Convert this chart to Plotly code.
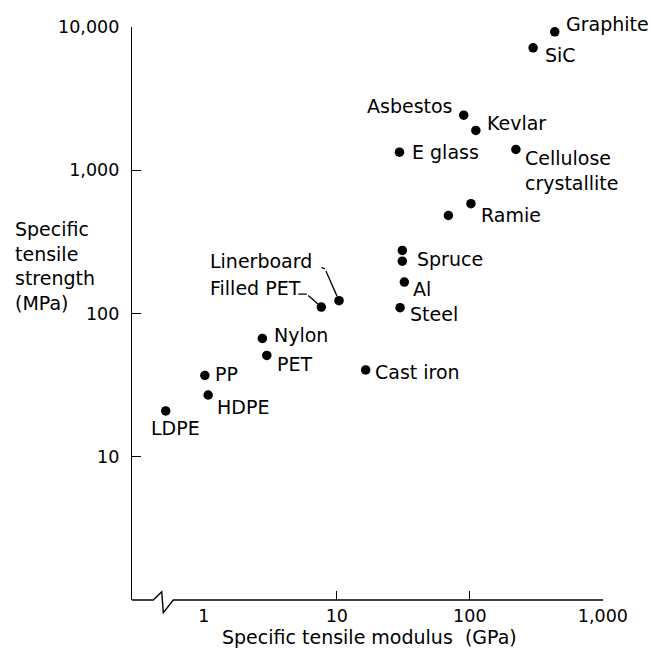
import math
import plotly.graph_objects as go

# ---------------- data ----------------
materials = ["Graphite", "SiC", "Asbestos", "Kevlar", "E glass",
             "Cellulose crystallite", "Ramie", "", "", "Spruce", "Al", "Steel",
             "Cast iron", "Linerboard", "Filled PET", "Nylon", "PET", "PP",
             "HDPE", "LDPE"]
modulus_gpa = [435, 299, 90, 111, 29.6, 222, 102, 69, 31.1, 31.1, 32.2, 29.9,
               16.5, 10.4, 7.66, 2.76, 2.98, 1.02, 1.08, 0.518]
strength_mpa = [9270, 7170, 2430, 1900, 1340, 1400, 585, 484, 276, 232, 166,
                110, 40.4, 123, 111, 67, 51, 37, 27, 20.9]

x_tick_vals = [10, 100, 1000]
x_tick_text = ["10", "100", "1,000"]
x_extra_tick_vals = [1]
x_extra_tick_text = ["1"]
y_tick_vals = [10, 100, 1000, 10000]
y_tick_text = ["10", "100", "1,000", "10,000"]

x_title = "Specific tensile modulus  (GPa)"
y_title = "Specific<br>tensile<br>strength<br>(MPa)"

# ---------------- styling ----------------
FONT = "DejaVu Sans"
FS = 19
TFS = 17.5
BLACK = "#000000"

# label placement: name -> (xanchor, dx px, dy px (down positive))
placement = {
    "Graphite": ("left", 9.5, -8),
    "SiC": ("left", 10, 7),
    "Asbestos": ("right", -9, -9),
    "Kevlar": ("left", 9, -7),
    "E glass": ("left", 10.5, 0),
    "Cellulose crystallite": ("left", 7.5, 21),
    "Ramie": ("left", 8.5, 11.5),
    "Spruce": ("left", 12.5, -2),
    "Al": ("left", 6.5, 6.5),
    "Steel": ("left", 7.5, 6),
    "Cast iron": ("left", 7.5, 2),
    "Linerboard": ("right", -25.5, -40),
    "Filled PET": ("right", -18, -19.5),
    "Nylon": ("left", 9.5, -3.5),
    "PET": ("left", 8.5, 9),
    "PP": ("left", 8.5, -1.5),
    "HDPE": ("left", 7, 11.5),
    "LDPE": ("center", 9.5, 17),
}
# leader lines: name -> list of (head dx, head dy, tail dx from head, tail dy from head, standoff)
leaders = {
    "Linerboard": [(-14, -31.7, -5, -2.3, 0), (0, 0, -14, -31.7, 5)],
    "Filled PET": [(-14.6, -13, -10, 0, 0), (0, 0, -14.6, -13, 4.5)],
}

fig = go.Figure()
fig.add_trace(go.Scatter(
    x=modulus_gpa, y=strength_mpa, mode="markers",
    marker=dict(size=9.5, color=BLACK), xaxis="x", yaxis="y",
    hoverinfo="skip", showlegend=False))
# helper trace for the extra x tick label "1" (no tick mark)
fig.add_trace(go.Scatter(x=[None], y=[None], xaxis="x2", yaxis="y",
                         showlegend=False, hoverinfo="skip"))

annotations = []
for name, xv, yv in zip(materials, modulus_gpa, strength_mpa):
    if not name:
        continue
    xa, dx, dy = placement[name]
    text = name.replace(" crystallite", "<br>crystallite") if name == "Cellulose crystallite" else name
    annotations.append(dict(
        x=math.log10(xv), y=math.log10(yv), xref="x", yref="y",
        text=text, showarrow=False, xanchor=xa, yanchor="middle", align="left",
        xshift=dx, yshift=-dy, font=dict(family=FONT, size=FS, color=BLACK)))
    for hx, hy, tx, ty, so in leaders.get(name, []):
        annotations.append(dict(
            x=math.log10(xv), y=math.log10(yv), xref="x", yref="y",
            text=" ", font=dict(size=1), showarrow=True, arrowhead=0,
            arrowwidth=1.3, arrowcolor=BLACK, ax=tx, ay=ty, standoff=so,
            xshift=hx, yshift=-hy))

annotations.append(dict(
    x=-0.2533, y=0.583, xref="paper", yref="paper", text=y_title,
    showarrow=False, xanchor="left", yanchor="middle", align="left",
    font=dict(family=FONT, size=FS, color=BLACK)))
annotations.append(dict(
    x=0.5053, y=-0.0646, xref="paper", yref="paper", text=x_title,
    showarrow=False, xanchor="center", yanchor="middle",
    font=dict(family=FONT, size=FS, color=BLACK)))

# x axis line with break (paper coordinates)
xs = [0, 0.0452, 0.0631, 0.0665, 0.0877, 1.0]
ys = [0, 0, 0.01449, -0.02216, 0, 0]
path = "M " + " L ".join(f"{a},{b}" for a, b in zip(xs, ys))
shapes = [dict(type="path", path=path, xref="paper", yref="paper",
               line=dict(color=BLACK, width=1.4))]

x_range = [-0.539, 3.001]
fig.update_layout(
    width=651, height=652, autosize=False,
    margin=dict(l=132, r=48, t=27, b=52),
    paper_bgcolor="white", plot_bgcolor="white",
    font=dict(family=FONT, size=FS, color=BLACK),
    xaxis=dict(type="log", range=x_range, tickmode="array",
               tickvals=x_tick_vals, ticktext=x_tick_text,
               ticks="inside", ticklen=9, tickwidth=1.3, tickcolor=BLACK,
               showline=False, showgrid=False, zeroline=False,
               ticklabelstandoff=3,
               tickfont=dict(family=FONT, size=TFS, color=BLACK)),
    xaxis2=dict(type="log", range=x_range, overlaying="x", side="bottom",
                matches="x", tickmode="array", tickvals=x_extra_tick_vals,
                ticktext=x_extra_tick_text, ticks="", showline=False,
                showgrid=False, zeroline=False, ticklabelstandoff=3,
                tickfont=dict(family=FONT, size=TFS, color=BLACK)),
    yaxis=dict(type="log", range=[0, 4.001], tickmode="array",
               tickvals=y_tick_vals, ticktext=y_tick_text,
               ticks="inside", ticklen=9, tickwidth=1.3, tickcolor=BLACK,
               showline=True, linecolor=BLACK, linewidth=1.4,
               showgrid=False, zeroline=False, ticklabelstandoff=8,
               tickfont=dict(family=FONT, size=TFS, color=BLACK)),
    annotations=annotations, shapes=shapes,
)

fig.write_html("out.html", config={"displayModeBar": False},
               post_script="document.body.style.margin='0';document.body.style.padding='0';")
